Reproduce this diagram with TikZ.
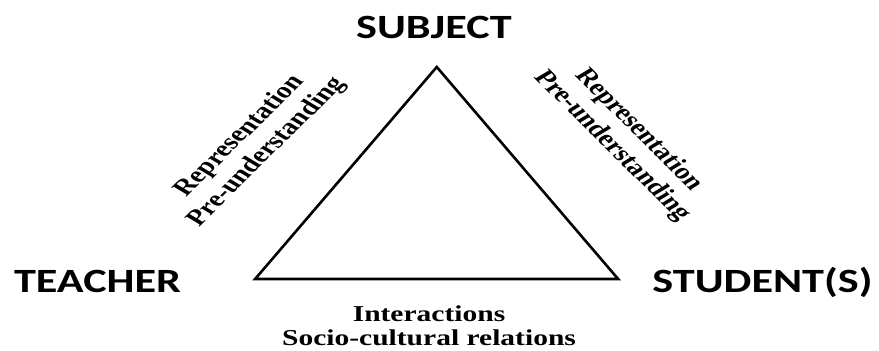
\documentclass[tikz,border=0pt]{standalone}
\usepackage{fontspec}
\setmainfont{Liberation Serif}
\newfontfamily\cornerfont{Carlito}

\begin{document}
\begin{tikzpicture}[xscale=1.3, x=1pt, y=-1pt, every node/.append style={transform shape}]

\tikzstyle{corner}=[font=\cornerfont\bfseries\fontsize{34}{40}\selectfont, anchor=base]
\tikzstyle{relation}=[font=\bfseries\fontsize{22.7}{26}\selectfont, align=center]

\useasboundingbox (0,0) rectangle (676.15,350);

% --- the triangle ---
\coordinate (apex) at (335.9,67);
\coordinate (leftfoot) at (196.2,279);
\coordinate (rightfoot) at (475.4,279);
\draw[line width=2.6pt] (apex) -- (rightfoot) -- (leftfoot) -- cycle;

% --- corners ---
\node[corner] (subject) at (333.8,39) {SUBJECT};
\node[corner] (teacher) at (75,292) {TEACHER};
\node[corner] (students) at (586.5,292) {STUDENT(S)};

% --- relations along the sides ---
\node[relation, rotate=52] (lefttext) at (195,144) {Representation\\Pre-understanding};
\node[relation, rotate=-52] (righttext) at (481,138) {Representation\\Pre-understanding};
\node[relation, anchor=base, font=\bfseries\fontsize{22.7}{24}\selectfont] (bottomtext) at (330,345) {Interactions\\Socio-cultural relations};

\end{tikzpicture}
\end{document}
